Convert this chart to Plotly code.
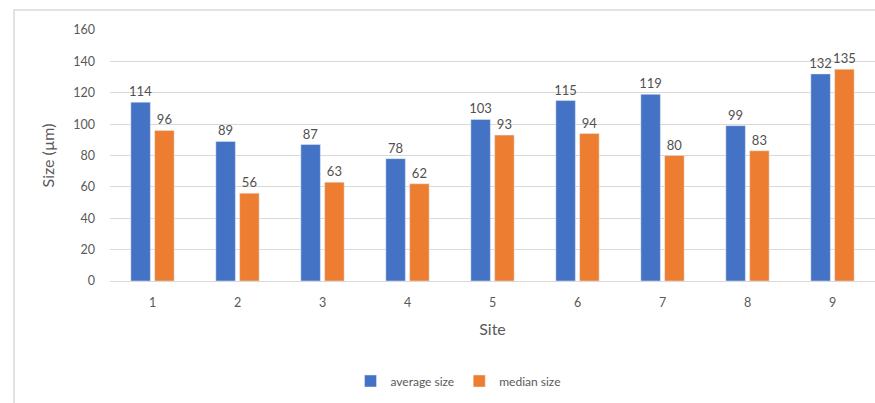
import plotly.graph_objects as go

sites = ["1", "2", "3", "4", "5", "6", "7", "8", "9"]
average_size = [114, 89, 87, 78, 103, 115, 119, 99, 132]
median_size = [96, 56, 63, 62, 93, 94, 80, 83, 135]
y_ticks = [0, 20, 40, 60, 80, 100, 120, 140, 160]

W, H = 875, 403
L, R, T, B = 110, 0, 30, 122
pw, ph = W - L - R, H - T - B

fig = go.Figure()
fig.add_trace(go.Bar(x=sites, y=average_size, name="average size",
                     marker_color="#4472C4", text=average_size, textposition="outside",
                     constraintext="none",
                     textfont=dict(size=13, color="#505050"), cliponaxis=False))
fig.add_trace(go.Bar(x=sites, y=median_size, name="median size",
                     marker_color="#ED7D31", text=median_size, textposition="outside",
                     constraintext="none",
                     textfont=dict(size=13, color="#505050"), cliponaxis=False))

fig.update_layout(
    width=W, height=H,
    margin=dict(l=L, r=R, t=T, b=B, pad=0),
    paper_bgcolor="white", plot_bgcolor="white",
    font=dict(family="Lato, Open Sans, sans-serif", color="#595959", size=12),
    barmode="group", bargap=0.44, bargroupgap=0.18,
    showlegend=True,
    legend=dict(orientation="h", x=(458 - L) / pw, xanchor="center",
                y=(T + ph - 381) / ph, yanchor="middle",
                font=dict(size=12, color="#595959"), itemwidth=30,
                traceorder="normal"),
    xaxis=dict(type="category", showgrid=False, showline=True, linecolor="#D9D9D9",
               ticks="", tickfont=dict(size=12.5, color="#595959"), ticklabelstandoff=10,
               title=dict(text="Site", font=dict(size=16, color="#595959"), standoff=14)),
    yaxis=dict(range=[0, 160], tickvals=y_ticks, showgrid=True, gridcolor="#D9D9D9",
               zeroline=False, showline=False, ticks="",
               tickfont=dict(size=12.5, color="#595959"), ticklabelstandoff=14,
               title=dict(text="Size (µm)", font=dict(size=16, color="#595959"), standoff=14)),
)

# outer chart border (partially cropped on the right and bottom)
fig.add_shape(type="rect", xref="paper", yref="paper",
              x0=(14 - L) / pw, x1=(W + 20 - L) / pw,
              y0=(T + ph - (H + 20)) / ph, y1=1 + (T - 10) / ph,
              line=dict(color="#D9D9D9", width=1.5), fillcolor="rgba(0,0,0,0)", layer="below")

fig.write_html("out.html")
